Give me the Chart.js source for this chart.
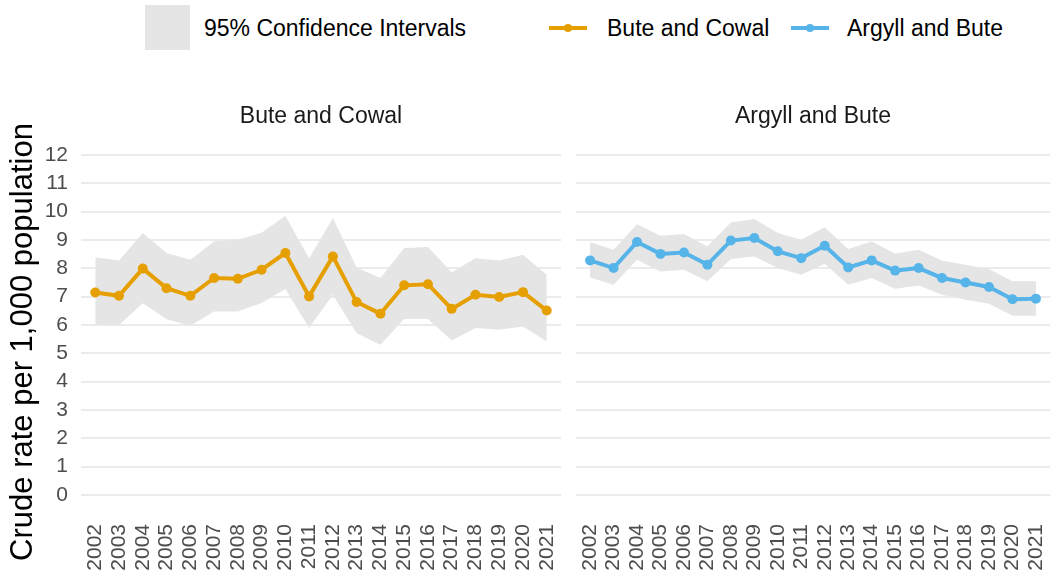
<!DOCTYPE html>
<html>
<head>
<meta charset="utf-8">
<script src="https://cdn.jsdelivr.net/npm/chart.js@4"></script>
<style>
  html, body { margin: 0; padding: 0; background: #fff; }
  #wrap { position: relative; width: 1055px; height: 585px; overflow: hidden;
          font-family: "Liberation Sans", Arial, sans-serif; }
  #left { position: absolute; left: 0; top: 0; }
  #right { position: absolute; left: 568px; top: 0; }
  .lg-text { position: absolute; top: 14px; font-size: 23px; line-height: 28px; color: #000; white-space: nowrap; }
  .lg-line { position: absolute; top: 26px; height: 4px; width: 38px; }
  .lg-dot { position: absolute; top: 24px; width: 8px; height: 8px; border-radius: 50%; }
</style>
</head>
<body>
<div id="wrap">
  <div style="position:absolute;left:145px;top:5px;width:45px;height:45px;background:#e5e5e5"></div>
  <div class="lg-text" style="left:204px">95% Confidence Intervals</div>
  <div class="lg-line" style="left:549px;background:#E69F00"></div>
  <div class="lg-dot" style="left:564px;background:#E69F00"></div>
  <div class="lg-text" style="left:607px">Bute and Cowal</div>
  <div class="lg-line" style="left:791px;background:#56B4E9"></div>
  <div class="lg-dot" style="left:806px;background:#56B4E9"></div>
  <div class="lg-text" style="left:847px">Argyll and Bute</div>
  <canvas id="left" width="568" height="585"></canvas>
  <canvas id="right" width="487" height="585"></canvas>
</div>
<script>
// values
const years = ['2002', '2003', '2004', '2005', '2006', '2007', '2008', '2009', '2010', '2011',
               '2012', '2013', '2014', '2015', '2016', '2017', '2018', '2019', '2020', '2021'];
const yTicks = [0, 1, 2, 3, 4, 5, 6, 7, 8, 9, 10, 11, 12];

const buteCowalRate  = [7.15, 7.03, 7.99, 7.30, 7.03, 7.66, 7.63, 7.95, 8.54, 7.01,
                        8.42, 6.81, 6.40, 7.40, 7.44, 6.57, 7.07, 6.99, 7.16, 6.51];
const buteCowalUpper = [8.39, 8.28, 9.25, 8.54, 8.30, 8.95, 9.01, 9.26, 9.86, 8.36,
                        9.78, 8.03, 7.66, 8.72, 8.75, 7.86, 8.36, 8.28, 8.48, 7.77];
const buteCowalLower = [6.02, 6.00, 6.77, 6.20, 5.97, 6.48, 6.48, 6.78, 7.27, 5.89,
                        7.07, 5.71, 5.30, 6.21, 6.21, 5.45, 5.89, 5.83, 5.95, 5.42];

const argyllRate  = [8.28, 8.01, 8.93, 8.51, 8.56, 8.13, 8.98, 9.07, 8.60, 8.36,
                     8.80, 8.03, 8.28, 7.92, 8.01, 7.66, 7.50, 7.34, 6.91, 6.93];
const argyllUpper = [8.92, 8.66, 9.56, 9.15, 9.21, 8.77, 9.62, 9.74, 9.25, 9.01,
                     9.45, 8.68, 8.95, 8.52, 8.66, 8.28, 8.13, 7.98, 7.54, 7.54];
const argyllLower = [7.68, 7.42, 8.30, 7.89, 7.95, 7.54, 8.33, 8.42, 8.01, 7.77,
                     8.16, 7.42, 7.66, 7.28, 7.39, 7.07, 6.89, 6.75, 6.33, 6.33];

const FONT = '"Liberation Sans", Arial, sans-serif';
const BAND = '#e5e5e5';

// panel title over the centre of each plot area, plus the shared y title on the left one
const panelTitle = {
  id: 'panelTitle',
  afterDraw(chart, args, opts) {
    const { ctx, chartArea } = chart;
    ctx.save();
    ctx.font = '23px ' + FONT;
    ctx.fillStyle = '#1a1a1a';
    ctx.textAlign = 'center';
    ctx.textBaseline = 'middle';
    ctx.fillText(opts.text, (chartArea.left + chartArea.right) / 2, 117);
    if (opts.yTitle) {
      ctx.translate(23, 342);
      ctx.rotate(-Math.PI / 2);
      ctx.font = '31px ' + FONT;
      ctx.fillStyle = '#000';
      ctx.fillText(opts.yTitle, 0, 0);
    }
    ctx.restore();
  }
};

function toPoints(arr) {
  return arr.map((v, i) => ({ x: i, y: v }));
}

function makePanel(canvasId, title, rate, lower, upper, color, isLeft) {
  return new Chart(document.getElementById(canvasId), {
    type: 'line',
    data: {
      datasets: [
        {
          data: toPoints(rate),
          borderColor: color,
          backgroundColor: color,
          borderWidth: 4,
          pointRadius: 5,
          pointBorderWidth: 0,
          tension: 0,
          fill: false
        },
        {
          data: toPoints(lower),
          borderWidth: 0,
          pointRadius: 0,
          fill: false
        },
        {
          data: toPoints(upper),
          borderWidth: 0,
          pointRadius: 0,
          backgroundColor: BAND,
          fill: 1
        }
      ]
    },
    plugins: [panelTitle],
    options: {
      responsive: false,
      animation: false,
      layout: { padding: { top: 138, right: isLeft ? 7 : 0, left: 0, bottom: 0 } },
      plugins: {
        legend: { display: false },
        tooltip: { enabled: false },
        filler: { drawTime: 'beforeDatasetsDraw' },
        panelTitle: { text: title, yTitle: isLeft ? 'Crude rate per 1,000 population' : '' }
      },
      scales: {
        x: {
          type: 'linear',
          min: -0.6,
          max: 19.6,
          afterBuildTicks: axis => { axis.ticks = years.map((y, i) => ({ value: i })); },
          afterFit: axis => {
            axis.height = 73;
            axis.paddingLeft = 0;
            axis.paddingRight = 0;
          },
          grid: { display: false },
          border: { display: false },
          ticks: {
            autoSkip: false,
            maxRotation: 90,
            minRotation: 90,
            padding: 4,
            color: '#4d4d4d',
            font: { family: FONT, size: 21 },
            callback: v => years[v]
          }
        },
        y: {
          min: -0.6,
          max: 12.6,
          afterBuildTicks: axis => { axis.ticks = yTicks.map(v => ({ value: v })); },
          afterFit: axis => { axis.width = isLeft ? 81 : 8; },
          grid: { color: '#ebebeb', lineWidth: 2, drawTicks: false },
          border: { display: false },
          ticks: {
            display: isLeft,
            padding: 13,
            color: '#4d4d4d',
            font: { family: FONT, size: 21 }
          }
        }
      }
    }
  });
}

makePanel('left', 'Bute and Cowal', buteCowalRate, buteCowalLower, buteCowalUpper, '#E69F00', true);
makePanel('right', 'Argyll and Bute', argyllRate, argyllLower, argyllUpper, '#56B4E9', false);
</script>
</body>
</html>
